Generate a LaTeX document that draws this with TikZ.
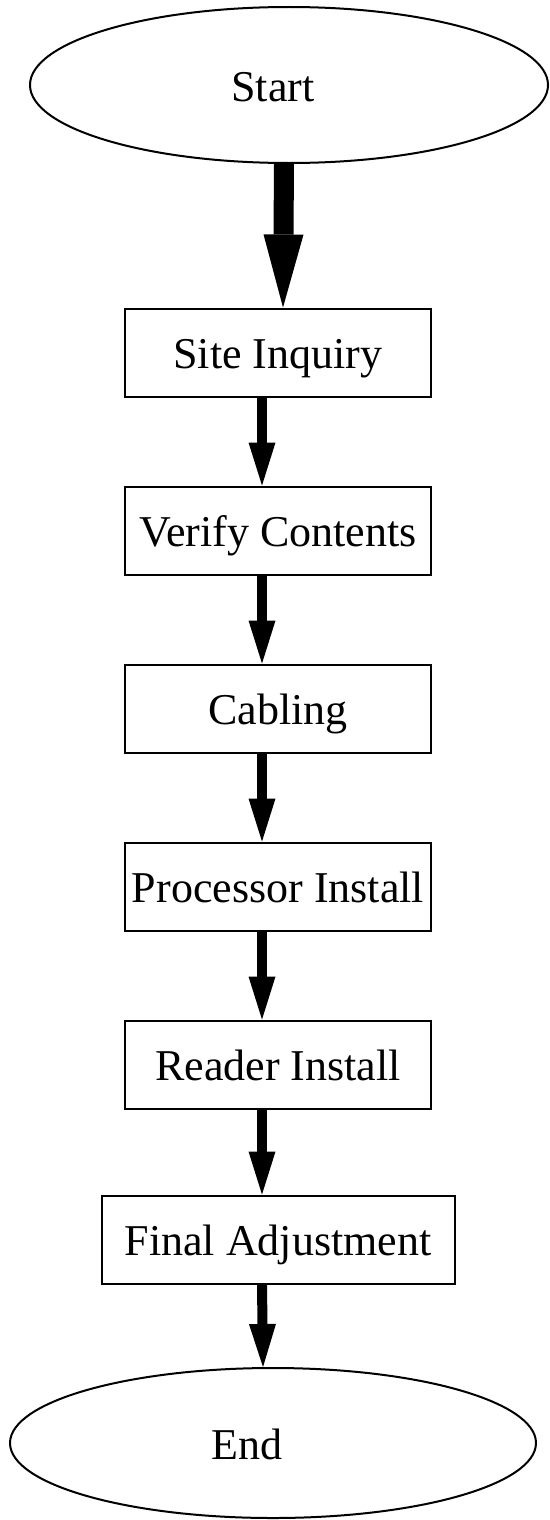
\documentclass[tikz,border=0pt]{standalone}
\usepackage{fontspec}
\setmainfont{Liberation Serif}
\usetikzlibrary{positioning,shapes.geometric,arrows.meta}

\begin{document}
\begin{tikzpicture}[x=1pt,y=-1pt,node distance=88pt,
  box/.style={draw,line width=2pt,minimum width=306pt,minimum height=88pt,inner sep=0pt,text height=32pt,text depth=0pt,font=\fontsize{44}{50}\selectfont},
  oval/.style={ellipse,draw,line width=2pt,inner sep=0pt,text height=32pt,text depth=0pt,font=\fontsize{44}{50}\selectfont},
  bigarrow/.style={line width=20pt,-{Triangle[length=73pt,width=40pt,line width=0pt]}},
  arrow/.style={line width=10pt,-{Triangle[length=43pt,width=27pt,line width=0pt]}}]
\useasboundingbox (0,0) rectangle (549,1520);
\node [oval,minimum width=518pt,minimum height=156pt] (start) at (289,85) {\hspace*{-32pt}Start};
\node [box] (site) at (278,352.5) {Site Inquiry};
\node [box,below=of site] (verify) {Verify Contents};
\node [box,below=of verify] (cabling) {Cabling};
\node [box,below=of cabling] (proc) {Processor Install};
\node [box,below=of proc] (reader) {Reader Install};
\node [box,below=85pt of reader,minimum width=353pt] (final) {Final Adjustment};
\node [oval,minimum width=526pt,minimum height=150pt] (finish) at (273,1443) {\hspace*{-52pt}End};
\draw [bigarrow] ([xshift=-5pt]start.south) -- ([xshift=5pt]site.north);
\foreach \a/\b in {site/verify,verify/cabling,cabling/proc,proc/reader,reader/final}
  \draw [arrow] ([xshift=-16pt]\a.south) -- ([xshift=-16pt]\b.north);
\draw [arrow] ([xshift=-16pt]final.south) -- ([xshift=-10pt]finish.north);
\end{tikzpicture}
\end{document}
